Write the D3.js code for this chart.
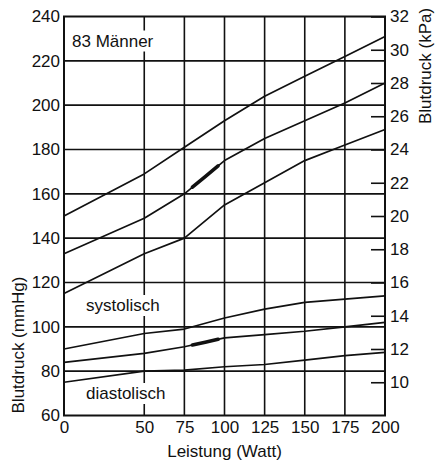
<!DOCTYPE html>
<html>
<head>
<meta charset="utf-8">
<script src="https://cdn.jsdelivr.net/npm/d3@7/dist/d3.min.js"></script>
<style>
  html, body { margin: 0; padding: 0; background: #fff; }
  svg { display: block; }
  text { font-family: "Liberation Sans", Arial, Helvetica, sans-serif; fill: #111; }
</style>
</head>
<body>
<svg id="chart" width="435" height="464"></svg>
<script>
// ---- data ----
const watt = [0, 50, 75, 100, 125, 150, 175, 200];
const sysUpper  = [150, 169, 181, 193, 204, 213, 222, 231];
const sysMiddle = [133, 149, 160, 175, 185, 193, 201, 210];
const sysLower  = [115, 133, 140, 155, 165, 175, 182, 189];
const diaUpper  = [90, 97, 99, 104, 108, 111, 112.5, 114];
const diaMiddle = [84, 88, 91, 95, 96.5, 98, 100, 102];
const diaLower  = [75, 80, 80.5, 82, 83, 85, 87, 88.5];
const thickRange = [80, 96];          // Watt range of the emphasised mean segment
const mmHgTicks = [60, 80, 100, 120, 140, 160, 180, 200, 220, 240];
const kPaTicks  = [10, 12, 14, 16, 18, 20, 22, 24, 26, 28, 30, 32];
const wattTicks = [0, 50, 75, 100, 125, 150, 175, 200];

// ---- layout ----
const L = 64, R = 385, T = 16.5, B = 415.5;
const svg = d3.select("#chart");
const x = d3.scaleLinear().domain([0, 200]).range([L, R]);
const y = d3.scaleLinear().domain([60, 240]).range([B, T]);
const yk = d3.scaleLinear().domain([60 / 7.5, 240 / 7.5]).range([B, T]);

// grid
const grid = svg.append("g").attr("stroke", "#111").attr("stroke-width", 1.6);
grid.selectAll(".h").data(mmHgTicks.slice(1, -1)).join("line")
  .attr("x1", L).attr("x2", R).attr("y1", d => y(d)).attr("y2", d => y(d));
grid.selectAll(".v").data(wattTicks.slice(1, -1)).join("line")
  .attr("y1", T).attr("y2", B).attr("x1", d => x(d)).attr("x2", d => x(d));

// labels with white background (interrupt gridlines)
function boxedLabel(txt, tx, ty) {
  const g = svg.append("g");
  const r = g.append("rect").attr("fill", "#fff");
  const t = g.append("text").attr("x", tx).attr("y", ty)
    .attr("font-size", 17).text(txt);
  const bb = t.node().getBBox();
  r.attr("x", bb.x - 2).attr("y", bb.y - 1).attr("width", bb.width + 4).attr("height", bb.height + 2);
}
boxedLabel("83 Männer", 72, 46.5);
boxedLabel("systolisch", 86, 311);
boxedLabel("diastolisch", 86, 399);

// frame
svg.append("rect").attr("x", L).attr("y", T).attr("width", R - L).attr("height", B - T)
  .attr("fill", "none").attr("stroke", "#111").attr("stroke-width", 2);

// axes
const fs = 17;
const ax = svg.append("g").attr("transform", `translate(${L},0)`)
  .call(d3.axisLeft(y).tickValues(mmHgTicks).tickSize(0).tickPadding(4));
const axR = svg.append("g").attr("transform", `translate(${R},0)`)
  .call(d3.axisRight(yk).tickValues(kPaTicks).tickSize(-14).tickPadding(5));
const axB = svg.append("g").attr("transform", `translate(0,${B})`)
  .call(d3.axisBottom(x).tickValues(wattTicks).tickSize(0).tickPadding(5));
[ax, axR, axB].forEach(a => {
  a.select(".domain").remove();
  a.selectAll("text").attr("font-size", fs).attr("fill", "#111")
    .attr("font-family", '"Liberation Sans", Arial, sans-serif');
  a.selectAll("line").attr("stroke", "#111").attr("stroke-width", 1.6);
});

// axis titles
svg.append("text").attr("x", x(100)).attr("y", 457).attr("text-anchor", "middle")
  .attr("font-size", 17).text("Leistung (Watt)");
svg.append("text").attr("transform", "translate(24,345) rotate(-90)").attr("text-anchor", "middle")
  .attr("font-size", 17).text("Blutdruck (mmHg)");
svg.append("text").attr("transform", "translate(431,66) rotate(-90)").attr("text-anchor", "middle")
  .attr("font-size", 17).text("Blutdruck (kPa)");

// data lines
const series = [sysUpper, sysMiddle, sysLower, diaUpper, diaMiddle, diaLower];
const line = d3.line().x(d => x(d[0])).y(d => y(d[1]));
svg.append("g").selectAll("path").data(series).join("path")
  .attr("d", s => line(watt.map((w, i) => [w, s[i]])))
  .attr("fill", "none").attr("stroke", "#111").attr("stroke-width", 1.7)
  .attr("stroke-linejoin", "round");

// emphasised segments on the middle curves
function interp(s, w) {
  return d3.scaleLinear().domain(watt).range(s)(w);
}
[sysMiddle, diaMiddle].forEach(s => {
  const pts = [thickRange[0], (thickRange[0] + thickRange[1]) / 2, thickRange[1]].map(w => [w, interp(s, w)]);
  svg.append("path").attr("d", line(pts)).attr("fill", "none")
    .attr("stroke", "#111").attr("stroke-width", 3.6).attr("stroke-linecap", "round");
});
</script>
</body>
</html>
